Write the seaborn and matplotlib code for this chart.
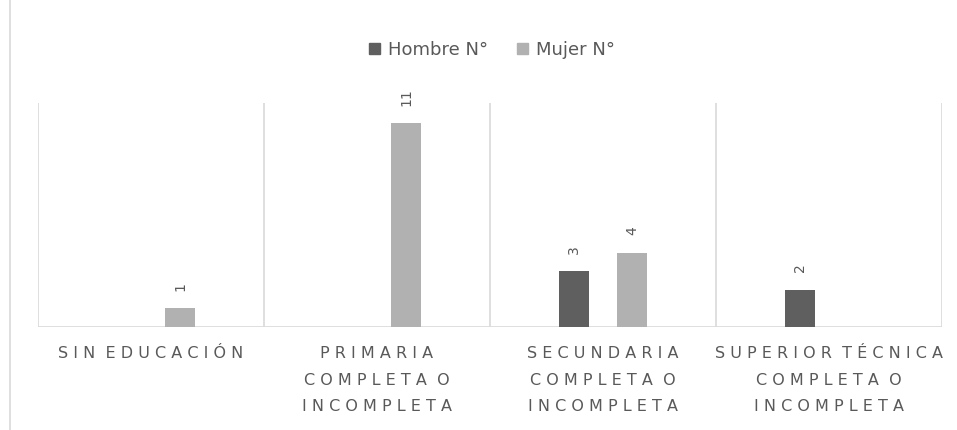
import matplotlib
matplotlib.use('Agg')
import matplotlib.pyplot as plt
import seaborn as sns
import pandas as pd
from matplotlib.lines import Line2D

# data
categories = ['SIN EDUCACIÓN', 'PRIMARIA\nCOMPLETA O\nINCOMPLETA',
              'SECUNDARIA\nCOMPLETA O\nINCOMPLETA',
              'SUPERIOR TÉCNICA\nCOMPLETA O\nINCOMPLETA']
hombre = [0, 0, 3, 2]
mujer = [1, 11, 4, 0]
series = ['Hombre N°', 'Mujer N°']
colors = {'Hombre N°': '#5f5f5f', 'Mujer N°': '#b1b1b1'}
text_color = '#595959'
grid_color = '#d9d9d9'

df = pd.DataFrame({
    'cat': categories * 2,
    'serie': [series[0]] * 4 + [series[1]] * 4,
    'valor': hombre + mujer,
})


def spaced(label):
    # imitate Excel's letter spacing
    lines = []
    for line in label.split('\n'):
        words = [' '.join(w) for w in line.split(' ')]
        lines.append('  '.join(words))
    return '\n'.join(lines)


sns.set_style('white')
plt.rcParams['font.family'] = ['DejaVu Sans']

fig = plt.figure(figsize=(9.57, 4.30), dpi=100)
ax = fig.add_axes([38 / 957, 1 - 327 / 430, (942 - 38) / 957, (327 - 103) / 430])

sns.barplot(data=df, x='cat', y='valor', hue='serie', palette=colors,
            width=0.52, gap=0.49, ax=ax, legend=False, saturation=1,
            linewidth=0)

ax.set_ylim(0, 12.1)
ax.set_xlim(-0.5, 3.5)
ax.set_xlabel('')
ax.set_ylabel('')
ax.set_yticks([])
for s in ax.spines.values():
    s.set_visible(False)
ax.axhline(0, color=grid_color, lw=1.2, zorder=0)
for xv in [-0.5, 0.5, 1.5, 2.5, 3.5]:
    ax.axvline(xv, color=grid_color, lw=1.2, zorder=0)

ax.set_xticks(range(len(categories)))
ax.set_xticklabels([spaced(c) for c in categories], fontsize=11.5,
                   color=text_color, linespacing=1.95, va='top')
ax.tick_params(axis='x', length=0, pad=14)

# value labels, rotated like the reference
for cont in ax.containers:
    for bar in cont:
        h = bar.get_height()
        if h > 0:
            ax.text(bar.get_x() + bar.get_width() / 2, h + 0.95, f'{int(h)}',
                    rotation=90, ha='center', va='bottom', fontsize=10,
                    color=text_color)

handles = [plt.Rectangle((0, 0), 1, 1, color=colors[s]) for s in series]
fig.legend(handles, series, loc='center', bbox_to_anchor=(0.514, 1 - 50 / 430),
           ncol=2, frameon=False, fontsize=13, handlelength=0.6,
           handleheight=0.6, handletextpad=0.45, columnspacing=1.6,
           labelcolor=text_color)

# left border line of the chart area
fig.add_artist(Line2D([10 / 957, 10 / 957], [0, 1], color=grid_color, lw=1.2))

fig.savefig('out.png', dpi=100)
